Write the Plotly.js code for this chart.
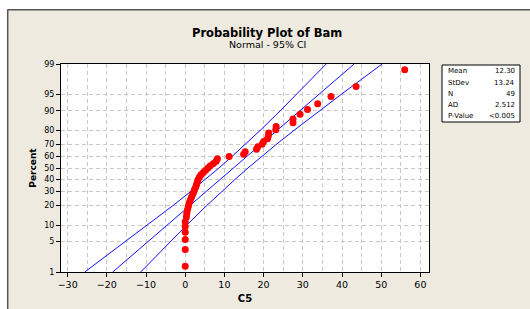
<!DOCTYPE html>
<html>
<head>
<meta charset="utf-8">
<script src="https://cdn.plot.ly/plotly-3.0.1.min.js"></script>
<style>html,body{margin:0;padding:0;background:#fff;}#chart{width:530px;height:309px;}</style>
</head>
<body>
<div id="chart"></div>
<script>
// ---- data ----
const c5Values = [0,0,0,0,0,0,0.3,0.4,0.6,0.8,1.0,1.3,1.6,1.9,2.2,2.4,2.7,2.9,3.1,3.3,3.6,4.0,4.6,5.2,5.8,6.4,7.2,7.9,8.2,11.2,14.9,15.3,18.2,18.5,19.6,20.0,21.0,21.2,21.3,23.1,23.2,27.5,27.5,29.3,31.2,33.8,37.2,43.6,56.0];
const pointPercents = [1.4,3.4,5.5,7.5,9.5,11.5,13.6,15.6,17.6,19.6,21.7,23.7,25.7,27.7,29.8,31.8,33.8,35.8,37.9,39.9,41.9,43.9,46.0,48.0,50.0,52.0,54.0,56.1,58.1,60.1,62.1,64.2,66.2,68.2,70.2,72.3,74.3,76.3,78.3,80.4,82.4,84.4,86.4,88.5,90.5,92.5,94.5,96.6,98.6];
const linePercents = [1,5,10,20,30,40,50,60,70,80,90,95,99];
const fitLine   = [-18.50,-9.48,-4.67,1.16,5.36,8.95,12.30,15.65,19.24,23.44,29.27,34.08,43.10];
const ciLower   = [-25.64,-15.17,-9.67,-3.15,1.41,5.18,8.59,11.88,15.29,19.13,24.27,28.39,35.96];
const ciUpper   = [-11.36,-3.79,0.33,5.47,9.31,12.72,16.01,19.42,23.19,27.75,34.27,39.77,50.24];
const yTickPercents = [1,5,10,20,30,40,50,60,70,80,90,95,99];
const xTickVals = [-30,-20,-10,0,10,20,30,40,50,60];
const statLabels = ["Mean","StDev","N","AD","P-Value"];
const statValues = ["12.30","13.24","49","2.512","<0.005"];

// inverse normal CDF (probability-scale axis transform)
function probit(p){
  const a=[-3.969683028665376e+01,2.209460984245205e+02,-2.759285104469687e+02,1.383577518672690e+02,-3.066479806614716e+01,2.506628277459239e+00];
  const b=[-5.447609879822406e+01,1.615858368580409e+02,-1.556989798598866e+02,6.680131188771972e+01,-1.328068155288572e+01];
  const c=[-7.784894002430293e-03,-3.223964580411365e-01,-2.400758277161838e+00,-2.549671010243138e+00,4.374664141464968e+00,2.938163982698783e+00];
  const d=[7.784695709041462e-03,3.224671290700398e-01,2.445134137142996e+00,3.754408661907416e+00];
  const pl=0.02425, ph=1-pl; let q,r;
  if(p<pl){q=Math.sqrt(-2*Math.log(p));return (((((c[0]*q+c[1])*q+c[2])*q+c[3])*q+c[4])*q+c[5])/((((d[0]*q+d[1])*q+d[2])*q+d[3])*q+1);}
  if(p<=ph){q=p-0.5;r=q*q;return (((((a[0]*r+a[1])*r+a[2])*r+a[3])*r+a[4])*r+a[5])*q/(((((b[0]*r+b[1])*r+b[2])*r+b[3])*r+b[4])*r+1);}
  q=Math.sqrt(-2*Math.log(1-p));return -(((((c[0]*q+c[1])*q+c[2])*q+c[3])*q+c[4])*q+c[5])/((((d[0]*q+d[1])*q+d[2])*q+d[3])*q+1);
}
const zOf = pc => probit(pc/100);

const FONT = "DejaVu Sans, Verdana, sans-serif";
const lineStyle = {color:'#1010ff', width:1};
const traces = [
  {x:ciLower, y:linePercents.map(zOf), mode:'lines', line:lineStyle, hoverinfo:'skip'},
  {x:fitLine, y:linePercents.map(zOf), mode:'lines', line:lineStyle, hoverinfo:'skip'},
  {x:ciUpper, y:linePercents.map(zOf), mode:'lines', line:lineStyle, hoverinfo:'skip'},
  {x:c5Values, y:pointPercents.map(zOf), mode:'markers', marker:{color:'#ff0000', size:7}}
];

// plot area in pixels: left 61, right 429, top 64, bottom 272
const L=61,R=429,T=64,B=272;
const px = x => (x-L)/(R-L);
const py = y => (B-y)/(B-T);

const annotations = [
  {text:'<b>Probability Plot of Bam</b>', xref:'paper', yref:'paper', x:px(267), y:py(33), showarrow:false, font:{family:FONT,size:11.5,color:'#000'}, xanchor:'center', yanchor:'middle'},
  {text:'Normal - 95% CI', xref:'paper', yref:'paper', x:px(267), y:py(44.5), showarrow:false, font:{family:FONT,size:9.5,color:'#000'}, xanchor:'center', yanchor:'middle'}
];
const rowY = [71,82.5,94,105,116];
statLabels.forEach((lab,i)=>{
  annotations.push({text:lab, xref:'paper', yref:'paper', x:px(446), y:py(rowY[i]), xanchor:'left', yanchor:'middle', showarrow:false, font:{family:FONT,size:7,color:'#000'}});
  annotations.push({text:statValues[i], xref:'paper', yref:'paper', x:px(517), y:py(rowY[i]), xanchor:'right', yanchor:'middle', showarrow:false, font:{family:FONT,size:7,color:'#000'}});
});

const shapes = [
  {type:'rect', xref:'paper', yref:'paper', x0:px(-5), x1:px(540), y0:py(-5), y1:py(9.5), fillcolor:'#ffffff', line:{width:0}, layer:'below'},
  {type:'rect', xref:'paper', yref:'paper', x0:px(-5), x1:px(7.5), y0:py(-5), y1:py(320), fillcolor:'#ffffff', line:{width:0}, layer:'below'},
  {type:'line', xref:'paper', yref:'paper', x0:px(7.5), x1:px(540), y0:py(9.7), y1:py(9.7), line:{color:'#555555', width:1.5}},
  {type:'line', xref:'paper', yref:'paper', x0:px(7.7), x1:px(7.7), y0:py(9.5), y1:py(320), line:{color:'#555555', width:1.5}},
  {type:'rect', xref:'paper', yref:'paper', x0:px(442), x1:px(520), y0:py(65), y1:py(122), fillcolor:'#ffffff', line:{color:'#000000', width:1}}
];

const gridCol = '#c8c8c8';
const gdash = '4px,3px';
const layout = {
  width:530, height:309,
  margin:{l:L, r:530-R, t:T, b:309-B, pad:0},
  paper_bgcolor:'#eeeae0', plot_bgcolor:'#ffffff',
  showlegend:false,
  font:{family:FONT, size:8.5, color:'#000'},
  xaxis:{
    range:[-31.7,62.2], tickmode:'array', tickvals:xTickVals, ticks:'outside', ticklen:4, tickcolor:'#000',
    showline:true, linecolor:'#000', linewidth:1, mirror:true, zeroline:false,
    showgrid:true, gridcolor:gridCol, griddash:gdash, gridwidth:1,
    minor:{dtick:5, tick0:0, showgrid:true, gridcolor:gridCol, griddash:gdash, gridwidth:1, ticks:''},
    tickfont:{family:FONT,size:9.5},
    title:{text:'<b>C5</b>', font:{family:FONT,size:10}, standoff:5}
  },
  yaxis:{
    range:[zOf(1), zOf(99)], tickmode:'array', tickvals:yTickPercents.map(zOf), ticktext:yTickPercents.map(String),
    ticks:'outside', ticklen:4, tickcolor:'#000',
    showline:true, linecolor:'#000', linewidth:1, mirror:true, zeroline:false,
    showgrid:true, gridcolor:gridCol, griddash:gdash, gridwidth:1,
    tickfont:{family:FONT,size:8},
    title:{text:'<b>Percent</b>', font:{family:FONT,size:9}, standoff:6}
  },
  annotations:annotations,
  shapes:shapes
};
Plotly.newPlot('chart', traces, layout, {staticPlot:true, displayModeBar:false});
</script>
</body>
</html>
